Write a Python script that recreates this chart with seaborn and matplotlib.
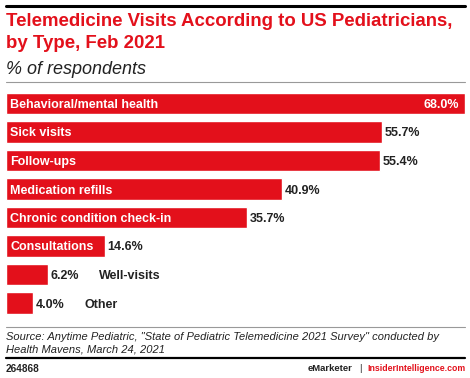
import matplotlib
matplotlib.use("Agg")
import matplotlib.pyplot as plt
from matplotlib.lines import Line2D
import seaborn as sns
import pandas as pd

# data
types = ["Behavioral/mental health", "Sick visits", "Follow-ups", "Medication refills",
         "Chronic condition check-in", "Consultations", "Well-visits", "Other"]
values = [68.0, 55.7, 55.4, 40.9, 35.7, 14.6, 6.2, 4.0]

RED = "#e3101b"
DARK = "#222222"

sns.set_theme(style="white")
plt.rcParams["font.family"] = ["Liberation Sans", "DejaVu Sans"]

W, H = 470, 378
fig = plt.figure(figsize=(W / 100, H / 100), dpi=100)

def fx(px):
    return px / W

def fy(py):
    return 1 - py / H

# bar area: x 6..465 px = 0..68, bar rows from y=89 to y=317 px
ax = fig.add_axes([fx(6), fy(317.25), fx(459), (317.25 - 89.25) / H])
df = pd.DataFrame({"type": types, "value": values})
sns.barplot(data=df, x="value", y="type", color=RED, saturation=1, width=0.74, ax=ax)
ax.set_xlim(0, 68)
ax.set_ylim(7.5, -0.5)
ax.axis("off")

FS = 9
VA = "center_baseline"
for i, (t, v) in enumerate(zip(types, values)):
    if i == 0:
        ax.annotate(f"{v:.1f}%", (v, i), xytext=(-4, 0), textcoords="offset points", color="white",
                    fontsize=FS, fontweight="bold", ha="right", va=VA)
        ax.annotate(t, (0, i), xytext=(3, 0), textcoords="offset points", color="white",
                    fontsize=FS, fontweight="bold", ha="left", va=VA)
    elif v > 10:
        ax.annotate(t, (0, i), xytext=(3, 0), textcoords="offset points", color="white",
                    fontsize=FS, fontweight="bold", ha="left", va=VA)
        ax.annotate(f"{v:.1f}%", (v, i), xytext=(2, 0), textcoords="offset points", color=DARK,
                    fontsize=FS, fontweight="bold", ha="left", va=VA)
    else:
        ax.annotate(f"{v:.1f}%", (v, i), xytext=(2, 0), textcoords="offset points", color=DARK,
                    fontsize=FS, fontweight="bold", ha="left", va=VA)
        ax.annotate(t, (v, i), xytext=(37, 0), textcoords="offset points", color=DARK,
                    fontsize=FS, fontweight="bold", ha="left", va=VA)

# header
fig.add_artist(Line2D([fx(6), fx(465)], [fy(6), fy(6)], color="black", lw=2.2))
fig.text(fx(6), fy(21), "Telemedicine Visits According to US Pediatricians,", color=RED,
         fontsize=13.4, fontweight="bold", va="center")
fig.text(fx(6), fy(44), "by Type, Feb 2021", color=RED, fontsize=13.4, fontweight="bold", va="center")
fig.text(fx(6), fy(69), "% of respondents", color=DARK, fontsize=13, fontstyle="italic", va="center")
fig.add_artist(Line2D([fx(6), fx(465)], [fy(82), fy(82)], color="#999999", lw=0.8))

# footer
fig.add_artist(Line2D([fx(6), fx(465)], [fy(327), fy(327)], color="#999999", lw=0.8))
fig.text(fx(6), fy(337), "Source: Anytime Pediatric, \"State of Pediatric Telemedicine 2021 Survey\" conducted by",
         color=DARK, fontsize=8, fontstyle="italic", va="center")
fig.text(fx(6), fy(350), "Health Mavens, March 24, 2021", color=DARK, fontsize=8,
         fontstyle="italic", va="center")
fig.add_artist(Line2D([fx(6), fx(465)], [fy(358), fy(358)], color="black", lw=1.6))
fig.text(fx(6), fy(368.5), "264868", color=DARK, fontsize=7.2, fontweight="bold", va="center")
fig.text(fx(465), fy(368.5), "InsiderIntelligence.com", color=RED, fontsize=6.3,
         fontweight="bold", ha="right", va="center")
fig.text(fx(360), fy(368.5), "|", color=DARK, fontsize=6.6, ha="center", va="center")
fig.text(fx(353), fy(368.5), "eMarketer", color=DARK, fontsize=6.8,
         fontweight="bold", ha="right", va="center")

fig.savefig("out.png", dpi=100)
